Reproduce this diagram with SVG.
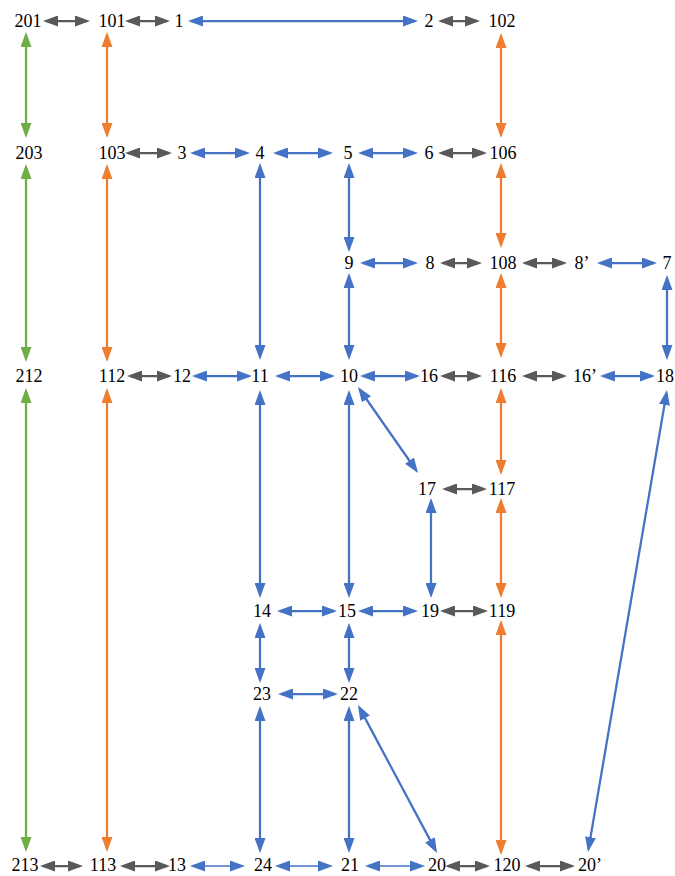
<svg xmlns="http://www.w3.org/2000/svg" width="675" height="876" viewBox="0 0 675 876">
<style>
text{font-family:"Liberation Serif","Times New Roman",serif;font-size:18px;fill:#000;text-anchor:middle}
line{fill:none;stroke-linecap:butt}
.g{stroke:#595959;stroke-width:2.25;marker-start:url(#ag);marker-end:url(#ag)}
.b{stroke:#4472C4;stroke-width:2.25;marker-start:url(#ab);marker-end:url(#ab)}
.bt{stroke:#4472C4;stroke-width:1.3;marker-start:url(#ab);marker-end:url(#ab)}
.o{stroke:#ED7D31;stroke-width:2.25;marker-start:url(#ao);marker-end:url(#ao)}
.gr{stroke:#70AD47;stroke-width:2.25;marker-start:url(#agr);marker-end:url(#agr)}
</style>
<defs>
<marker id="ag" markerUnits="userSpaceOnUse" markerWidth="15" markerHeight="11" refX="12" refY="5.5" orient="auto-start-reverse"><path d="M0,0 L15,5.5 L0,11 z" fill="#595959"/></marker>
<marker id="ab" markerUnits="userSpaceOnUse" markerWidth="15" markerHeight="11" refX="12" refY="5.5" orient="auto-start-reverse"><path d="M0,0 L15,5.5 L0,11 z" fill="#4472C4"/></marker>
<marker id="ao" markerUnits="userSpaceOnUse" markerWidth="15" markerHeight="11" refX="12" refY="5.5" orient="auto-start-reverse"><path d="M0,0 L15,5.5 L0,11 z" fill="#ED7D31"/></marker>
<marker id="agr" markerUnits="userSpaceOnUse" markerWidth="15" markerHeight="11" refX="12" refY="5.5" orient="auto-start-reverse"><path d="M0,0 L15,5.5 L0,11 z" fill="#70AD47"/></marker>
</defs>
<rect width="675" height="876" fill="#fff"/>
<g id="connectors">
<line class="g" x1="46" y1="21" x2="87" y2="21"/>
<line class="g" x1="128" y1="21" x2="167" y2="21"/>
<line class="g" x1="441" y1="21" x2="477" y2="21"/>
<line class="g" x1="128" y1="153" x2="169" y2="153"/>
<line class="g" x1="441" y1="153" x2="484" y2="153"/>
<line class="g" x1="443" y1="263" x2="479" y2="263"/>
<line class="g" x1="525" y1="263" x2="564" y2="263"/>
<line class="g" x1="130" y1="376" x2="169" y2="376"/>
<line class="g" x1="443" y1="376" x2="479" y2="376"/>
<line class="g" x1="525" y1="376" x2="564" y2="376"/>
<line class="g" x1="445" y1="489" x2="484" y2="489"/>
<line class="g" x1="443" y1="611" x2="485" y2="611"/>
<line class="g" x1="43" y1="866" x2="80" y2="866"/>
<line class="g" x1="123" y1="866" x2="167" y2="866"/>
<line class="g" x1="448" y1="866" x2="487" y2="866"/>
<line class="g" x1="528" y1="866" x2="572" y2="866"/>

<line class="b" x1="191" y1="21" x2="415" y2="21"/>
<line class="b" x1="193" y1="153" x2="247" y2="153"/>
<line class="b" x1="276" y1="153" x2="330" y2="153"/>
<line class="b" x1="361" y1="153" x2="415" y2="153"/>
<line class="b" x1="363" y1="263" x2="415" y2="263"/>
<line class="b" x1="600" y1="263" x2="654" y2="263"/>
<line class="b" x1="195" y1="376" x2="249" y2="376"/>
<line class="b" x1="278" y1="376" x2="332" y2="376"/>
<line class="b" x1="363" y1="376" x2="417" y2="376"/>
<line class="b" x1="603" y1="376" x2="652" y2="376"/>
<line class="b" x1="280" y1="611" x2="334" y2="611"/>
<line class="b" x1="361" y1="611" x2="415" y2="611"/>
<line class="b" x1="281" y1="694" x2="335" y2="694"/>
<line class="bt" x1="193" y1="866" x2="242" y2="866"/>
<line class="bt" x1="278" y1="866" x2="330" y2="866"/>
<line class="bt" x1="368" y1="866" x2="422" y2="866"/>

<line class="b" x1="260" y1="166" x2="260" y2="357"/>
<line class="b" x1="260" y1="393" x2="260" y2="595"/>
<line class="b" x1="260" y1="626" x2="260" y2="680"/>
<line class="b" x1="260" y1="709" x2="260" y2="850"/>
<line class="b" x1="349" y1="166" x2="349" y2="249"/>
<line class="b" x1="349" y1="276" x2="349" y2="357"/>
<line class="b" x1="349" y1="393" x2="349" y2="595"/>
<line class="b" x1="349" y1="626" x2="349" y2="680"/>
<line class="b" x1="349" y1="709" x2="349" y2="850"/>
<line class="b" x1="431" y1="501" x2="431" y2="595"/>
<line class="b" x1="667" y1="278" x2="667" y2="357"/>

<line class="b" x1="359.7" y1="389.5" x2="416.3" y2="470.5"/>
<line class="b" x1="359.4" y1="707.6" x2="435.6" y2="850.4"/>
<line class="b" x1="666.5" y1="393" x2="588.5" y2="849"/>

<line class="gr" x1="26" y1="35" x2="26" y2="135"/>
<line class="gr" x1="26" y1="167" x2="26" y2="359"/>
<line class="gr" x1="26" y1="391" x2="26" y2="849"/>
<line class="o" x1="107" y1="35" x2="107" y2="135"/>
<line class="o" x1="107" y1="167" x2="107" y2="359"/>
<line class="o" x1="107" y1="391" x2="107" y2="849"/>
<line class="o" x1="501" y1="36" x2="501" y2="135"/>
<line class="o" x1="501" y1="166" x2="501" y2="245"/>
<line class="o" x1="501" y1="276" x2="501" y2="355"/>
<line class="o" x1="501" y1="391" x2="501" y2="472"/>
<line class="o" x1="501" y1="501" x2="501" y2="595"/>
<line class="o" x1="501" y1="623" x2="501" y2="852"/>
</g>
<g font-family="Liberation Serif, Times New Roman, serif" font-size="18">
<g id="n201"><text x="28" y="27">201</text></g>
<g id="n101"><text x="112" y="27">101</text></g>
<g id="n1"><text x="179" y="27">1</text></g>
<g id="n2"><text x="429" y="27">2</text></g>
<g id="n102"><text x="502" y="27">102</text></g>
<g id="n203"><text x="29" y="159">203</text></g>
<g id="n103"><text x="112" y="159">103</text></g>
<g id="n3"><text x="182" y="159">3</text></g>
<g id="n4"><text x="260" y="159">4</text></g>
<g id="n5"><text x="348" y="159">5</text></g>
<g id="n6"><text x="429" y="159">6</text></g>
<g id="n106"><text x="503" y="159">106</text></g>
<g id="n9"><text x="349" y="269">9</text></g>
<g id="n8"><text x="430" y="269">8</text></g>
<g id="n108"><text x="503" y="269">108</text></g>
<g id="n8p"><text x="582" y="269">8’</text></g>
<g id="n7"><text x="667" y="269">7</text></g>
<g id="n212"><text x="29" y="382">212</text></g>
<g id="n112"><text x="112" y="382">112</text></g>
<g id="n12"><text x="182" y="382">12</text></g>
<g id="n11"><text x="260" y="382">11</text></g>
<g id="n10"><text x="349" y="382">10</text></g>
<g id="n16"><text x="429" y="382">16</text></g>
<g id="n116"><text x="503" y="382">116</text></g>
<g id="n16p"><text x="585" y="382">16’</text></g>
<g id="n18"><text x="665" y="382">18</text></g>
<g id="n17"><text x="427" y="495">17</text></g>
<g id="n117"><text x="502" y="495">117</text></g>
<g id="n14"><text x="262" y="617">14</text></g>
<g id="n15"><text x="347" y="617">15</text></g>
<g id="n19"><text x="430" y="617">19</text></g>
<g id="n119"><text x="502" y="617">119</text></g>
<g id="n23"><text x="262" y="700">23</text></g>
<g id="n22"><text x="349" y="700">22</text></g>
<g id="n213"><text x="25" y="871">213</text></g>
<g id="n113"><text x="103" y="871">113</text></g>
<g id="n13"><text x="177" y="871">13</text></g>
<g id="n24"><text x="263" y="871">24</text></g>
<g id="n21"><text x="350" y="871">21</text></g>
<g id="n20"><text x="437" y="871">20</text></g>
<g id="n120"><text x="507" y="871">120</text></g>
<g id="n20p"><text x="590" y="871">20’</text></g>
</g>
</svg>
